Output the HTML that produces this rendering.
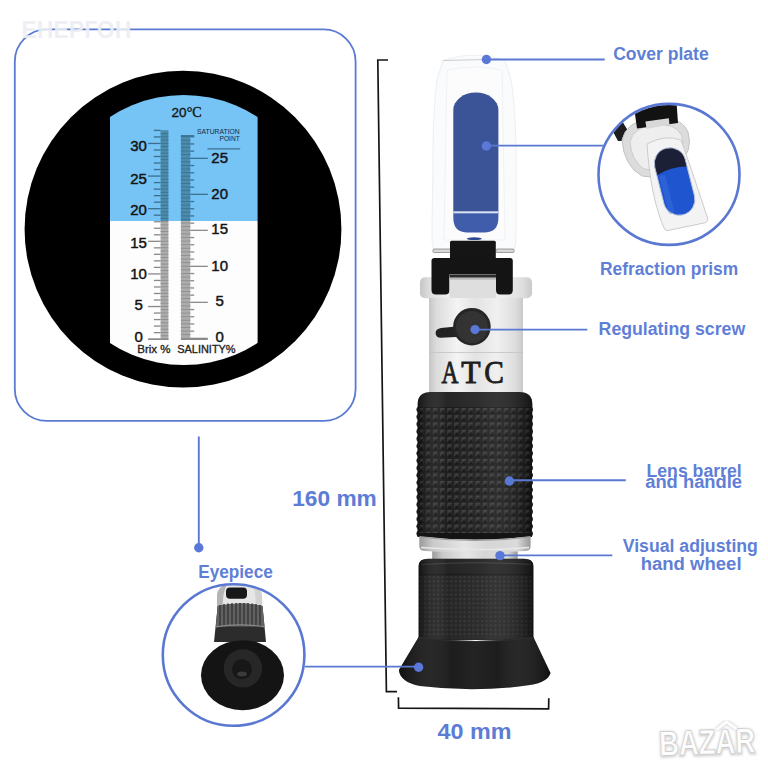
<!DOCTYPE html>
<html><head><meta charset="utf-8">
<style>
html,body{margin:0;padding:0;background:#fff;width:768px;height:768px;overflow:hidden}
svg{display:block}
text{font-family:"Liberation Sans",sans-serif}
.lbl{fill:#5f7fd7;font-weight:bold;font-size:18.3px}
.dim{fill:#5c7cd6;font-weight:bold;font-size:22px}
.num{fill:#141414;font-size:15px;stroke:#141414;stroke-width:0.45px}
</style></head>
<body>
<svg width="768" height="768" viewBox="0 0 768 768">
<defs>
  <clipPath id="panel">
    <circle cx="183.7" cy="230" r="135"/>
  </clipPath>
  <linearGradient id="silver" x1="0" x2="1" y1="0" y2="0">
    <stop offset="0" stop-color="#c6c6c6"/>
    <stop offset="0.08" stop-color="#dcdcdc"/>
    <stop offset="0.3" stop-color="#f4f4f4"/>
    <stop offset="0.5" stop-color="#e3e3e3"/>
    <stop offset="0.72" stop-color="#f0f0f0"/>
    <stop offset="0.92" stop-color="#dddddd"/>
    <stop offset="1" stop-color="#c9c9c9"/>
  </linearGradient>
  <linearGradient id="rubber" x1="0" x2="1" y1="0" y2="0">
    <stop offset="0" stop-color="#000" stop-opacity="0.35"/>
    <stop offset="0.25" stop-color="#fff" stop-opacity="0.04"/>
    <stop offset="0.55" stop-color="#fff" stop-opacity="0.08"/>
    <stop offset="1" stop-color="#000" stop-opacity="0.35"/>
  </linearGradient>
  <linearGradient id="ring" x1="0" x2="1" y1="0" y2="0">
    <stop offset="0" stop-color="#9a9a9a"/>
    <stop offset="0.12" stop-color="#c9c9c9"/>
    <stop offset="0.4" stop-color="#e6e6e6"/>
    <stop offset="0.6" stop-color="#d6d6d6"/>
    <stop offset="0.88" stop-color="#dadada"/>
    <stop offset="1" stop-color="#989898"/>
  </linearGradient>
  <linearGradient id="cone" x1="0" x2="1" y1="0" y2="0">
    <stop offset="0" stop-color="#000" stop-opacity="0.3"/>
    <stop offset="0.35" stop-color="#fff" stop-opacity="0.03"/>
    <stop offset="0.5" stop-color="#fff" stop-opacity="0.06"/>
    <stop offset="0.65" stop-color="#fff" stop-opacity="0.03"/>
    <stop offset="1" stop-color="#000" stop-opacity="0.3"/>
  </linearGradient>
  <pattern id="knurl" x="417.7" y="407" width="7.1" height="7.3" patternUnits="userSpaceOnUse">
    <rect width="7.1" height="7.3" fill="#161616"/>
    <path d="M0.9 0.9 L6.2 0.9 L3.55 3.65Z" fill="#3a3a3a"/>
    <path d="M0.9 0.9 L3.55 3.65 L0.9 6.4Z" fill="#2e2e2e"/>
    <path d="M6.2 0.9 L6.2 6.4 L3.55 3.65Z" fill="#1e1e1e"/>
    <path d="M0.9 6.4 L3.55 3.65 L6.2 6.4Z" fill="#0c0c0c"/>
  </pattern>
  <pattern id="dots" x="418.6" y="575" width="4.4" height="4.4" patternUnits="userSpaceOnUse">
    <rect width="4.4" height="4.4" fill="#1c1c1c"/>
    <rect x="1" y="1" width="2" height="2" fill="#2e2e2e"/>
  </pattern>
</defs>

<!-- ===== left magnified scale box ===== -->
<rect x="14.8" y="29.4" width="340.8" height="391.5" rx="32" ry="32" fill="none" stroke="#5b7bd3" stroke-width="1.8"/>
<text x="21.5" y="38" font-size="23" font-weight="bold" fill="#eceef4" fill-opacity="0.92">ЕНЕРГОН</text>

<circle cx="183" cy="229.2" r="158.4" fill="#000"/>
<g clip-path="url(#panel)">
  <rect x="110" y="90" width="147.6" height="131" fill="#76c3f6"/>
  <rect x="110" y="221" width="147.6" height="150" fill="#fdfdfd"/>
</g>

<!-- SCALE_START -->
<rect x="160.6" y="130.2" width="7.80" height="90.80" fill="#4b8cac"/>
<rect x="160.6" y="221.0" width="7.80" height="118.40" fill="#adadad"/>
<rect x="180.9" y="135.8" width="9.40" height="85.20" fill="#4b8cac"/>
<rect x="180.9" y="221.0" width="9.40" height="118.40" fill="#adadad"/>
<rect x="160.6" y="338.60" width="7.8" height="0.9" fill="#8e8e8e"/>
<rect x="160.6" y="335.34" width="7.8" height="0.9" fill="#8e8e8e"/>
<rect x="160.6" y="332.08" width="7.8" height="0.9" fill="#8e8e8e"/>
<rect x="160.6" y="328.82" width="7.8" height="0.9" fill="#8e8e8e"/>
<rect x="160.6" y="325.55" width="7.8" height="0.9" fill="#8e8e8e"/>
<rect x="160.6" y="322.29" width="7.8" height="0.9" fill="#8e8e8e"/>
<rect x="160.6" y="319.03" width="7.8" height="0.9" fill="#8e8e8e"/>
<rect x="160.6" y="315.77" width="7.8" height="0.9" fill="#8e8e8e"/>
<rect x="160.6" y="312.51" width="7.8" height="0.9" fill="#8e8e8e"/>
<rect x="160.6" y="309.25" width="7.8" height="0.9" fill="#8e8e8e"/>
<rect x="160.6" y="305.99" width="7.8" height="0.9" fill="#8e8e8e"/>
<rect x="160.6" y="302.72" width="7.8" height="0.9" fill="#8e8e8e"/>
<rect x="160.6" y="299.46" width="7.8" height="0.9" fill="#8e8e8e"/>
<rect x="160.6" y="296.20" width="7.8" height="0.9" fill="#8e8e8e"/>
<rect x="160.6" y="292.94" width="7.8" height="0.9" fill="#8e8e8e"/>
<rect x="160.6" y="289.68" width="7.8" height="0.9" fill="#8e8e8e"/>
<rect x="160.6" y="286.42" width="7.8" height="0.9" fill="#8e8e8e"/>
<rect x="160.6" y="283.15" width="7.8" height="0.9" fill="#8e8e8e"/>
<rect x="160.6" y="279.89" width="7.8" height="0.9" fill="#8e8e8e"/>
<rect x="160.6" y="276.63" width="7.8" height="0.9" fill="#8e8e8e"/>
<rect x="160.6" y="273.37" width="7.8" height="0.9" fill="#8e8e8e"/>
<rect x="160.6" y="270.11" width="7.8" height="0.9" fill="#8e8e8e"/>
<rect x="160.6" y="266.85" width="7.8" height="0.9" fill="#8e8e8e"/>
<rect x="160.6" y="263.59" width="7.8" height="0.9" fill="#8e8e8e"/>
<rect x="160.6" y="260.32" width="7.8" height="0.9" fill="#8e8e8e"/>
<rect x="160.6" y="257.06" width="7.8" height="0.9" fill="#8e8e8e"/>
<rect x="160.6" y="253.80" width="7.8" height="0.9" fill="#8e8e8e"/>
<rect x="160.6" y="250.54" width="7.8" height="0.9" fill="#8e8e8e"/>
<rect x="160.6" y="247.28" width="7.8" height="0.9" fill="#8e8e8e"/>
<rect x="160.6" y="244.02" width="7.8" height="0.9" fill="#8e8e8e"/>
<rect x="160.6" y="240.76" width="7.8" height="0.9" fill="#8e8e8e"/>
<rect x="160.6" y="237.49" width="7.8" height="0.9" fill="#8e8e8e"/>
<rect x="160.6" y="234.23" width="7.8" height="0.9" fill="#8e8e8e"/>
<rect x="160.6" y="230.97" width="7.8" height="0.9" fill="#8e8e8e"/>
<rect x="160.6" y="227.71" width="7.8" height="0.9" fill="#8e8e8e"/>
<rect x="160.6" y="224.45" width="7.8" height="0.9" fill="#8e8e8e"/>
<rect x="160.6" y="221.19" width="7.8" height="0.9" fill="#8e8e8e"/>
<rect x="160.6" y="217.92" width="7.8" height="0.9" fill="#3c7290"/>
<rect x="160.6" y="214.66" width="7.8" height="0.9" fill="#3c7290"/>
<rect x="160.6" y="211.40" width="7.8" height="0.9" fill="#3c7290"/>
<rect x="160.6" y="208.14" width="7.8" height="0.9" fill="#3c7290"/>
<rect x="160.6" y="204.88" width="7.8" height="0.9" fill="#3c7290"/>
<rect x="160.6" y="201.62" width="7.8" height="0.9" fill="#3c7290"/>
<rect x="160.6" y="198.36" width="7.8" height="0.9" fill="#3c7290"/>
<rect x="160.6" y="195.09" width="7.8" height="0.9" fill="#3c7290"/>
<rect x="160.6" y="191.83" width="7.8" height="0.9" fill="#3c7290"/>
<rect x="160.6" y="188.57" width="7.8" height="0.9" fill="#3c7290"/>
<rect x="160.6" y="185.31" width="7.8" height="0.9" fill="#3c7290"/>
<rect x="160.6" y="182.05" width="7.8" height="0.9" fill="#3c7290"/>
<rect x="160.6" y="178.79" width="7.8" height="0.9" fill="#3c7290"/>
<rect x="160.6" y="175.53" width="7.8" height="0.9" fill="#3c7290"/>
<rect x="160.6" y="172.26" width="7.8" height="0.9" fill="#3c7290"/>
<rect x="160.6" y="169.00" width="7.8" height="0.9" fill="#3c7290"/>
<rect x="160.6" y="165.74" width="7.8" height="0.9" fill="#3c7290"/>
<rect x="160.6" y="162.48" width="7.8" height="0.9" fill="#3c7290"/>
<rect x="160.6" y="159.22" width="7.8" height="0.9" fill="#3c7290"/>
<rect x="160.6" y="155.96" width="7.8" height="0.9" fill="#3c7290"/>
<rect x="160.6" y="152.69" width="7.8" height="0.9" fill="#3c7290"/>
<rect x="160.6" y="149.43" width="7.8" height="0.9" fill="#3c7290"/>
<rect x="160.6" y="146.17" width="7.8" height="0.9" fill="#3c7290"/>
<rect x="160.6" y="142.91" width="7.8" height="0.9" fill="#3c7290"/>
<rect x="160.6" y="139.65" width="7.8" height="0.9" fill="#3c7290"/>
<rect x="160.6" y="136.39" width="7.8" height="0.9" fill="#3c7290"/>
<rect x="160.6" y="133.13" width="7.8" height="0.9" fill="#3c7290"/>
<rect x="180.9" y="337.80" width="9.4" height="0.9" fill="#8e8e8e"/>
<rect x="180.9" y="334.20" width="9.4" height="0.9" fill="#8e8e8e"/>
<rect x="180.9" y="330.60" width="9.4" height="0.9" fill="#8e8e8e"/>
<rect x="180.9" y="327.00" width="9.4" height="0.9" fill="#8e8e8e"/>
<rect x="180.9" y="323.40" width="9.4" height="0.9" fill="#8e8e8e"/>
<rect x="180.9" y="319.80" width="9.4" height="0.9" fill="#8e8e8e"/>
<rect x="180.9" y="316.20" width="9.4" height="0.9" fill="#8e8e8e"/>
<rect x="180.9" y="312.60" width="9.4" height="0.9" fill="#8e8e8e"/>
<rect x="180.9" y="309.00" width="9.4" height="0.9" fill="#8e8e8e"/>
<rect x="180.9" y="305.40" width="9.4" height="0.9" fill="#8e8e8e"/>
<rect x="180.9" y="301.80" width="9.4" height="0.9" fill="#8e8e8e"/>
<rect x="180.9" y="298.20" width="9.4" height="0.9" fill="#8e8e8e"/>
<rect x="180.9" y="294.60" width="9.4" height="0.9" fill="#8e8e8e"/>
<rect x="180.9" y="291.00" width="9.4" height="0.9" fill="#8e8e8e"/>
<rect x="180.9" y="287.40" width="9.4" height="0.9" fill="#8e8e8e"/>
<rect x="180.9" y="283.80" width="9.4" height="0.9" fill="#8e8e8e"/>
<rect x="180.9" y="280.20" width="9.4" height="0.9" fill="#8e8e8e"/>
<rect x="180.9" y="276.60" width="9.4" height="0.9" fill="#8e8e8e"/>
<rect x="180.9" y="273.00" width="9.4" height="0.9" fill="#8e8e8e"/>
<rect x="180.9" y="269.40" width="9.4" height="0.9" fill="#8e8e8e"/>
<rect x="180.9" y="265.80" width="9.4" height="0.9" fill="#8e8e8e"/>
<rect x="180.9" y="262.20" width="9.4" height="0.9" fill="#8e8e8e"/>
<rect x="180.9" y="258.60" width="9.4" height="0.9" fill="#8e8e8e"/>
<rect x="180.9" y="255.00" width="9.4" height="0.9" fill="#8e8e8e"/>
<rect x="180.9" y="251.40" width="9.4" height="0.9" fill="#8e8e8e"/>
<rect x="180.9" y="247.80" width="9.4" height="0.9" fill="#8e8e8e"/>
<rect x="180.9" y="244.20" width="9.4" height="0.9" fill="#8e8e8e"/>
<rect x="180.9" y="240.60" width="9.4" height="0.9" fill="#8e8e8e"/>
<rect x="180.9" y="237.00" width="9.4" height="0.9" fill="#8e8e8e"/>
<rect x="180.9" y="233.40" width="9.4" height="0.9" fill="#8e8e8e"/>
<rect x="180.9" y="229.80" width="9.4" height="0.9" fill="#8e8e8e"/>
<rect x="180.9" y="226.20" width="9.4" height="0.9" fill="#8e8e8e"/>
<rect x="180.9" y="222.60" width="9.4" height="0.9" fill="#8e8e8e"/>
<rect x="180.9" y="219.00" width="9.4" height="0.9" fill="#3c7290"/>
<rect x="180.9" y="215.40" width="9.4" height="0.9" fill="#3c7290"/>
<rect x="180.9" y="211.80" width="9.4" height="0.9" fill="#3c7290"/>
<rect x="180.9" y="208.20" width="9.4" height="0.9" fill="#3c7290"/>
<rect x="180.9" y="204.60" width="9.4" height="0.9" fill="#3c7290"/>
<rect x="180.9" y="201.00" width="9.4" height="0.9" fill="#3c7290"/>
<rect x="180.9" y="197.40" width="9.4" height="0.9" fill="#3c7290"/>
<rect x="180.9" y="193.80" width="9.4" height="0.9" fill="#3c7290"/>
<rect x="180.9" y="190.20" width="9.4" height="0.9" fill="#3c7290"/>
<rect x="180.9" y="186.60" width="9.4" height="0.9" fill="#3c7290"/>
<rect x="180.9" y="183.00" width="9.4" height="0.9" fill="#3c7290"/>
<rect x="180.9" y="179.40" width="9.4" height="0.9" fill="#3c7290"/>
<rect x="180.9" y="175.80" width="9.4" height="0.9" fill="#3c7290"/>
<rect x="180.9" y="172.20" width="9.4" height="0.9" fill="#3c7290"/>
<rect x="180.9" y="168.60" width="9.4" height="0.9" fill="#3c7290"/>
<rect x="180.9" y="165.00" width="9.4" height="0.9" fill="#3c7290"/>
<rect x="180.9" y="161.40" width="9.4" height="0.9" fill="#3c7290"/>
<rect x="180.9" y="157.80" width="9.4" height="0.9" fill="#3c7290"/>
<rect x="180.9" y="154.20" width="9.4" height="0.9" fill="#3c7290"/>
<rect x="180.9" y="150.60" width="9.4" height="0.9" fill="#3c7290"/>
<rect x="180.9" y="147.00" width="9.4" height="0.9" fill="#3c7290"/>
<rect x="180.9" y="143.40" width="9.4" height="0.9" fill="#3c7290"/>
<rect x="180.9" y="139.80" width="9.4" height="0.9" fill="#3c7290"/>
<rect x="180.9" y="136.20" width="9.4" height="0.9" fill="#3c7290"/>
<rect x="148.1" y="338.50" width="12.50" height="1.3" fill="#8a8a8a"/>
<rect x="153.9" y="331.98" width="6.70" height="1.3" fill="#8a8a8a"/>
<rect x="153.9" y="325.45" width="6.70" height="1.3" fill="#8a8a8a"/>
<rect x="153.9" y="318.93" width="6.70" height="1.3" fill="#8a8a8a"/>
<rect x="153.9" y="312.41" width="6.70" height="1.3" fill="#8a8a8a"/>
<rect x="148.1" y="305.88" width="12.50" height="1.3" fill="#8a8a8a"/>
<rect x="153.9" y="299.36" width="6.70" height="1.3" fill="#8a8a8a"/>
<rect x="153.9" y="292.84" width="6.70" height="1.3" fill="#8a8a8a"/>
<rect x="153.9" y="286.32" width="6.70" height="1.3" fill="#8a8a8a"/>
<rect x="153.9" y="279.79" width="6.70" height="1.3" fill="#8a8a8a"/>
<rect x="148.1" y="273.27" width="12.50" height="1.3" fill="#8a8a8a"/>
<rect x="153.9" y="266.75" width="6.70" height="1.3" fill="#8a8a8a"/>
<rect x="153.9" y="260.22" width="6.70" height="1.3" fill="#8a8a8a"/>
<rect x="153.9" y="253.70" width="6.70" height="1.3" fill="#8a8a8a"/>
<rect x="153.9" y="247.18" width="6.70" height="1.3" fill="#8a8a8a"/>
<rect x="148.1" y="240.66" width="12.50" height="1.3" fill="#8a8a8a"/>
<rect x="153.9" y="234.13" width="6.70" height="1.3" fill="#8a8a8a"/>
<rect x="153.9" y="227.61" width="6.70" height="1.3" fill="#8a8a8a"/>
<rect x="153.9" y="221.09" width="6.70" height="1.3" fill="#8a8a8a"/>
<rect x="153.9" y="214.56" width="6.70" height="1.3" fill="#3d6f8e"/>
<rect x="148.1" y="208.04" width="12.50" height="1.3" fill="#3d6f8e"/>
<rect x="153.9" y="201.52" width="6.70" height="1.3" fill="#3d6f8e"/>
<rect x="153.9" y="194.99" width="6.70" height="1.3" fill="#3d6f8e"/>
<rect x="153.9" y="188.47" width="6.70" height="1.3" fill="#3d6f8e"/>
<rect x="153.9" y="181.95" width="6.70" height="1.3" fill="#3d6f8e"/>
<rect x="148.1" y="175.43" width="12.50" height="1.3" fill="#3d6f8e"/>
<rect x="153.9" y="168.90" width="6.70" height="1.3" fill="#3d6f8e"/>
<rect x="153.9" y="162.38" width="6.70" height="1.3" fill="#3d6f8e"/>
<rect x="153.9" y="155.86" width="6.70" height="1.3" fill="#3d6f8e"/>
<rect x="153.9" y="149.33" width="6.70" height="1.3" fill="#3d6f8e"/>
<rect x="148.1" y="142.81" width="12.50" height="1.3" fill="#3d6f8e"/>
<rect x="153.9" y="136.29" width="6.70" height="1.3" fill="#3d6f8e"/>
<rect x="153.9" y="129.76" width="6.70" height="1.3" fill="#3d6f8e"/>
<rect x="190.3" y="337.70" width="17.50" height="1.3" fill="#8a8a8a"/>
<rect x="190.3" y="330.50" width="3.90" height="1.3" fill="#8a8a8a"/>
<rect x="190.3" y="323.30" width="3.90" height="1.3" fill="#8a8a8a"/>
<rect x="190.3" y="316.10" width="3.90" height="1.3" fill="#8a8a8a"/>
<rect x="190.3" y="308.90" width="3.90" height="1.3" fill="#8a8a8a"/>
<rect x="190.3" y="301.70" width="17.50" height="1.3" fill="#8a8a8a"/>
<rect x="190.3" y="294.50" width="3.90" height="1.3" fill="#8a8a8a"/>
<rect x="190.3" y="287.30" width="3.90" height="1.3" fill="#8a8a8a"/>
<rect x="190.3" y="280.10" width="3.90" height="1.3" fill="#8a8a8a"/>
<rect x="190.3" y="272.90" width="3.90" height="1.3" fill="#8a8a8a"/>
<rect x="190.3" y="265.70" width="17.50" height="1.3" fill="#8a8a8a"/>
<rect x="190.3" y="258.50" width="3.90" height="1.3" fill="#8a8a8a"/>
<rect x="190.3" y="251.30" width="3.90" height="1.3" fill="#8a8a8a"/>
<rect x="190.3" y="244.10" width="3.90" height="1.3" fill="#8a8a8a"/>
<rect x="190.3" y="236.90" width="3.90" height="1.3" fill="#8a8a8a"/>
<rect x="190.3" y="229.70" width="17.50" height="1.3" fill="#8a8a8a"/>
<rect x="190.3" y="222.50" width="3.90" height="1.3" fill="#8a8a8a"/>
<rect x="190.3" y="215.30" width="3.90" height="1.3" fill="#3d6f8e"/>
<rect x="190.3" y="208.10" width="3.90" height="1.3" fill="#3d6f8e"/>
<rect x="190.3" y="200.90" width="3.90" height="1.3" fill="#3d6f8e"/>
<rect x="190.3" y="193.70" width="17.50" height="1.3" fill="#3d6f8e"/>
<rect x="190.3" y="186.50" width="3.90" height="1.3" fill="#3d6f8e"/>
<rect x="190.3" y="179.30" width="3.90" height="1.3" fill="#3d6f8e"/>
<rect x="190.3" y="172.10" width="3.90" height="1.3" fill="#3d6f8e"/>
<rect x="190.3" y="164.90" width="3.90" height="1.3" fill="#3d6f8e"/>
<rect x="190.3" y="157.70" width="17.50" height="1.3" fill="#3d6f8e"/>
<rect x="190.3" y="150.50" width="3.90" height="1.3" fill="#3d6f8e"/>
<rect x="190.3" y="143.30" width="3.90" height="1.3" fill="#3d6f8e"/>
<rect x="190.3" y="136.10" width="3.90" height="1.3" fill="#3d6f8e"/>
<rect x="148.4" y="338.6" width="20" height="1.4" fill="#8a8a8a"/>
<rect x="181" y="338.6" width="26.8" height="1.4" fill="#8a8a8a"/>
<rect x="180.9" y="135.1" width="13.3" height="1.3" fill="#3d6f8e"/>
<text class="num" x="138.6" y="151.3" text-anchor="middle">30</text>
<text class="num" x="138.6" y="183.9" text-anchor="middle">25</text>
<text class="num" x="138.6" y="214.7" text-anchor="middle">20</text>
<text class="num" x="138.6" y="247.5" text-anchor="middle">15</text>
<text class="num" x="138.6" y="279.1" text-anchor="middle">10</text>
<text class="num" x="138.6" y="310.3" text-anchor="middle">5</text>
<text class="num" x="138.6" y="342.0" text-anchor="middle">0</text>
<text class="num" x="219.7" y="162.9" text-anchor="middle">25</text>
<text class="num" x="219.7" y="198.8" text-anchor="middle">20</text>
<text class="num" x="219.7" y="233.9" text-anchor="middle">15</text>
<text class="num" x="219.7" y="271.1" text-anchor="middle">10</text>
<text class="num" x="219.7" y="306.2" text-anchor="middle">5</text>
<text class="num" x="219.7" y="342.3" text-anchor="middle">0</text>
<text x="171.6" y="116.7" font-size="13.5" fill="#141414" stroke="#141414" stroke-width="0.35">20<tspan style="font-family:'Liberation Serif',serif" font-size="14">°C</tspan></text>
<text x="196.9" y="133.6" font-size="7" fill="#1a2a3a" textLength="42.9" lengthAdjust="spacingAndGlyphs">SATURATION</text>
<text x="219.5" y="141.1" font-size="7" fill="#1a2a3a" textLength="20.3" lengthAdjust="spacingAndGlyphs">POINT</text>
<rect x="207.5" y="148.3" width="32.7" height="1.2" fill="#3d6f8e"/>
<text x="137.3" y="353.3" font-size="10" fill="#222" stroke="#222" stroke-width="0.3" textLength="33.2" lengthAdjust="spacingAndGlyphs">Brix %</text>
<text x="177.3" y="353.3" font-size="10" fill="#222" stroke="#222" stroke-width="0.3" textLength="58.3" lengthAdjust="spacingAndGlyphs">SALINITY%</text>
<!-- SCALE_END -->

<!-- ===== dimension brackets ===== -->
<path d="M388 60 L377.8 60 L386.4 691.6 L397 691.6" fill="none" stroke="#151515" stroke-width="1.7"/>
<path d="M398.4 697.3 L398.6 708.2 L548.6 708.8 L548.8 698.3" fill="none" stroke="#151515" stroke-width="1.7"/>
<text class="dim" x="292.2" y="506" textLength="84.6" lengthAdjust="spacingAndGlyphs">160 mm</text>
<text class="dim" x="437.5" y="738.5" textLength="74" lengthAdjust="spacingAndGlyphs">40 mm</text>

<!-- BODY_START -->
<!-- cover plate (transparent) -->
<path d="M443 60.5 Q474 50 505 60.5 L511 80 Q516 110 516 160 L516 235 Q516 250 512 252 L436 252 Q432 250 432 235 L433 160 Q433 110 437 80 Z" fill="#fafbfc" stroke="#eef0f3" stroke-width="1.2"/>
<path d="M443 60.5 L486 59.5" stroke="#c9ccd2" stroke-width="1.2"/>
<path d="M447 70 Q474 64 502 70 L505 240 L444 240 Z" fill="#fcfcfd" stroke="#f1f2f4" stroke-width="1"/>
<!-- prism window -->
<path d="M453.3 110 A22.55 17.5 0 0 1 498.4 110 L498.4 213 L453.3 213 Z" fill="#3a5497"/>
<path d="M453.3 212.5 L498.4 212.5 L498.4 218 Q498.4 232.5 484 232.5 L467.7 232.5 Q453.3 232.5 453.3 218 Z" fill="#3f5dab"/>
<rect x="453.3" y="211.3" width="45.1" height="2" fill="#dde3f2"/>
<ellipse cx="474.3" cy="238.7" rx="7.5" ry="1.4" fill="#2c4690"/>
<!-- pins -->
<rect x="433" y="249" width="18" height="3.5" rx="1" fill="#d8d8d8" stroke="#8a8a8a" stroke-width="0.8"/>
<rect x="496" y="249" width="18" height="3.5" rx="1" fill="#d8d8d8" stroke="#8a8a8a" stroke-width="0.8"/>
<!-- collar -->
<rect x="420" y="277.3" width="112" height="21" rx="5" fill="url(#silver)"/>
<!-- hinge -->
<rect x="450" y="240.8" width="45.8" height="19" rx="1.5" fill="#151515"/>
<path d="M434.5 258 L510.5 258 Q512.8 258 512.8 260.5 L512.8 290 Q512.8 294.5 508.5 294.5 L500 294.5 Q496 294.5 496 290 L496 274.5 L449.5 274.5 L449.5 290 Q449.5 294.5 445 294.5 L436 294.5 Q431.5 294.5 431.5 290 L431.5 260.5 Q431.5 258 434.5 258Z" fill="#141414"/>
<rect x="449.5" y="274.5" width="46.5" height="25" fill="#dedede"/>
<rect x="449.5" y="274.5" width="46.5" height="3.2" fill="#2a2a2a"/>
<rect x="449.5" y="277.7" width="46.5" height="2" fill="#b8b8b8"/>
<!-- body -->
<rect x="429" y="298" width="94" height="94.5" fill="url(#silver)"/>
<rect x="429" y="352.2" width="94" height="0.8" fill="#c4c4c4"/>
<!-- knob -->
<path d="M456 326.5 L441 328 Q435.5 329 435.6 333 Q435.8 338 441 337.8 L456 337 Z" fill="#222"/>
<circle cx="471.9" cy="326.7" r="18.8" fill="#262626"/>
<circle cx="471.9" cy="326.9" r="16" fill="#333"/>
<g font-size="32.5" fill="#1e1e1e" stroke="#1e1e1e" stroke-width="0.95"><text x="441.5" y="383.1" textLength="16.9" lengthAdjust="spacingAndGlyphs" style="font-family:'Liberation Serif',serif">A</text><text x="461.3" y="383.1" textLength="19.3" lengthAdjust="spacingAndGlyphs" style="font-family:'Liberation Serif',serif">T</text><text x="484.3" y="383.1" textLength="19.6" lengthAdjust="spacingAndGlyphs" style="font-family:'Liberation Serif',serif">C</text></g>
<!-- handle -->
<path d="M417.7 537 L417.7 404 Q417.7 392 431 392 L519 392 Q532.3 392 532.3 404 L531.7 537 Z" fill="#1d1d1d"/>
<rect x="417.7" y="407" width="114" height="130" fill="url(#knurl)"/>
<ellipse cx="418.2" cy="409.5" rx="1.8" ry="2.6" fill="#1c1c1c"/>
<ellipse cx="531.2" cy="409.5" rx="1.8" ry="2.6" fill="#1c1c1c"/>
<ellipse cx="418.2" cy="416.8" rx="1.8" ry="2.6" fill="#1c1c1c"/>
<ellipse cx="531.2" cy="416.8" rx="1.8" ry="2.6" fill="#1c1c1c"/>
<ellipse cx="418.2" cy="424.1" rx="1.8" ry="2.6" fill="#1c1c1c"/>
<ellipse cx="531.2" cy="424.1" rx="1.8" ry="2.6" fill="#1c1c1c"/>
<ellipse cx="418.2" cy="431.4" rx="1.8" ry="2.6" fill="#1c1c1c"/>
<ellipse cx="531.2" cy="431.4" rx="1.8" ry="2.6" fill="#1c1c1c"/>
<ellipse cx="418.2" cy="438.7" rx="1.8" ry="2.6" fill="#1c1c1c"/>
<ellipse cx="531.2" cy="438.7" rx="1.8" ry="2.6" fill="#1c1c1c"/>
<ellipse cx="418.2" cy="446.0" rx="1.8" ry="2.6" fill="#1c1c1c"/>
<ellipse cx="531.2" cy="446.0" rx="1.8" ry="2.6" fill="#1c1c1c"/>
<ellipse cx="418.2" cy="453.3" rx="1.8" ry="2.6" fill="#1c1c1c"/>
<ellipse cx="531.2" cy="453.3" rx="1.8" ry="2.6" fill="#1c1c1c"/>
<ellipse cx="418.2" cy="460.6" rx="1.8" ry="2.6" fill="#1c1c1c"/>
<ellipse cx="531.2" cy="460.6" rx="1.8" ry="2.6" fill="#1c1c1c"/>
<ellipse cx="418.2" cy="467.9" rx="1.8" ry="2.6" fill="#1c1c1c"/>
<ellipse cx="531.2" cy="467.9" rx="1.8" ry="2.6" fill="#1c1c1c"/>
<ellipse cx="418.2" cy="475.2" rx="1.8" ry="2.6" fill="#1c1c1c"/>
<ellipse cx="531.2" cy="475.2" rx="1.8" ry="2.6" fill="#1c1c1c"/>
<ellipse cx="418.2" cy="482.5" rx="1.8" ry="2.6" fill="#1c1c1c"/>
<ellipse cx="531.2" cy="482.5" rx="1.8" ry="2.6" fill="#1c1c1c"/>
<ellipse cx="418.2" cy="489.8" rx="1.8" ry="2.6" fill="#1c1c1c"/>
<ellipse cx="531.2" cy="489.8" rx="1.8" ry="2.6" fill="#1c1c1c"/>
<ellipse cx="418.2" cy="497.1" rx="1.8" ry="2.6" fill="#1c1c1c"/>
<ellipse cx="531.2" cy="497.1" rx="1.8" ry="2.6" fill="#1c1c1c"/>
<ellipse cx="418.2" cy="504.4" rx="1.8" ry="2.6" fill="#1c1c1c"/>
<ellipse cx="531.2" cy="504.4" rx="1.8" ry="2.6" fill="#1c1c1c"/>
<ellipse cx="418.2" cy="511.7" rx="1.8" ry="2.6" fill="#1c1c1c"/>
<ellipse cx="531.2" cy="511.7" rx="1.8" ry="2.6" fill="#1c1c1c"/>
<ellipse cx="418.2" cy="519.0" rx="1.8" ry="2.6" fill="#1c1c1c"/>
<ellipse cx="531.2" cy="519.0" rx="1.8" ry="2.6" fill="#1c1c1c"/>
<ellipse cx="418.2" cy="526.3" rx="1.8" ry="2.6" fill="#1c1c1c"/>
<ellipse cx="531.2" cy="526.3" rx="1.8" ry="2.6" fill="#1c1c1c"/>
<ellipse cx="418.2" cy="533.6" rx="1.8" ry="2.6" fill="#1c1c1c"/>
<ellipse cx="531.2" cy="533.6" rx="1.8" ry="2.6" fill="#1c1c1c"/>
<path d="M419 407.5 L531 407.5" stroke="#111" stroke-width="1.2"/>
<path d="M417.7 537 L417.7 404 Q417.7 392 431 392 L519 392 Q532.3 392 532.3 404 L531.7 537 Z" fill="url(#rubber)"/>
<!-- silver rings -->
<path d="M432.2 549 L517.7 549 L517.7 567 L432.2 567 Z" fill="url(#ring)"/>
<path d="M419.3 534 L530.6 534 L530.6 546 Q530.6 550.5 526 551 Q475 554 424 551 Q419.3 550.5 419.3 546 Z" fill="url(#ring)"/>
<path d="M421 547.5 Q475 551.5 529 547.5" stroke="#e8e8e8" stroke-width="1.5" fill="none"/>
<path d="M433 565.5 L517 565.5" stroke="#8a8a8a" stroke-width="1.5"/>
<path d="M417.7 533 L531.7 533 L531.7 536 Q475 543 417.7 536 Z" fill="#141414"/>
<path d="M419.5 537 Q475 544 530.5 537" stroke="#9a9a9a" stroke-width="1" fill="none"/>
<!-- eyepiece wheel -->
<path d="M418.6 640 L418.6 566 Q418.6 558.7 428 558.7 L524 558.7 Q533.4 558.7 533.4 566 L533.4 640 Z" fill="#1b1b1b"/>
<path d="M421 564.5 Q476 561 531 564.5" stroke="#3a3a3a" stroke-width="1.2" fill="none"/>
<path d="M419.5 574.5 L532.5 574.5" stroke="#101010" stroke-width="1.4"/>
<rect x="419.6" y="576" width="112.8" height="62" fill="url(#dots)"/>
<path d="M418.6 640 L418.6 566 Q418.6 558.7 428 558.7 L524 558.7 Q533.4 558.7 533.4 566 L533.4 640 Z" fill="url(#rubber)"/>
<!-- eyecup -->
<path d="M418.6 637 Q476 645 533.4 637 L550.5 673 Q548 682 530 685 Q476 693 420 686 Q400 682 398.9 670 Z" fill="#161616"/>
<path d="M418.6 637 Q476 645 533.4 637 L550.5 673 Q548 682 530 685 Q476 693 420 686 Q400 682 398.9 670 Z" fill="url(#cone)"/>
<path d="M418.6 637.5 Q476 645.5 533.4 637.5" stroke="#303030" stroke-width="1" fill="none"/>
<!-- BODY_END -->


<!-- CALL_START -->
<g stroke="#5a78d2" stroke-width="1.9" fill="none">
  <path d="M486.4 59.5 H604.7"/>
  <path d="M486.4 145.6 H603.5"/>
  <path d="M475 329.6 H587.3"/>
  <path d="M509.4 480.2 H625.8"/>
  <path d="M500 555.4 H612.3"/>
  <path d="M305 666.6 H418.6"/>
  <path d="M198.8 436.5 V547.8"/>
</g>
<g fill="#5a78d8">
  <circle cx="486.4" cy="59.5" r="4.7"/>
  <circle cx="486.4" cy="146" r="4.7"/>
  <circle cx="475" cy="329.6" r="4.6"/>
  <circle cx="509.4" cy="481" r="4.7"/>
  <circle cx="500" cy="555.6" r="4.7"/>
  <circle cx="418.6" cy="667.2" r="4.7"/>
  <circle cx="198.8" cy="547.8" r="4.7"/>
</g>
<text class="lbl" x="613.2" y="60" textLength="95.5" lengthAdjust="spacingAndGlyphs">Cover plate</text>
<text class="lbl" x="600.0" y="275" textLength="138.1" lengthAdjust="spacingAndGlyphs">Refraction prism</text>
<text class="lbl" x="598.6" y="335" textLength="146.6" lengthAdjust="spacingAndGlyphs">Regulating screw</text>
<text class="lbl" x="646.5" y="476.5" textLength="95.2" lengthAdjust="spacingAndGlyphs">Lens barrel</text>
<text class="lbl" x="645.2" y="487.8" textLength="96.9" lengthAdjust="spacingAndGlyphs">and handle</text>
<text class="lbl" x="622.7" y="552" textLength="135.2" lengthAdjust="spacingAndGlyphs">Visual adjusting</text>
<text class="lbl" x="640.7" y="570.3" textLength="100.9" lengthAdjust="spacingAndGlyphs">hand wheel</text>
<text class="lbl" x="198.2" y="578.3" textLength="74.6" lengthAdjust="spacingAndGlyphs">Eyepiece</text>
<!-- prism magnified circle -->
<clipPath id="pc"><circle cx="669" cy="174.4" r="69.5"/></clipPath>
<circle cx="669" cy="174.4" r="70.5" fill="#fff"/>
<g clip-path="url(#pc)">
  <path d="M610 126 L622 121 L630 134 L626 141 L618 141 Z" fill="#1e1e1e"/>
  <path d="M622 140 Q626 122 650 118 Q680 114 688 132 Q694 152 676 166 Q658 180 642 176 Q624 166 622 140 Z" fill="#dcdcdc" stroke="#c2c2c2" stroke-width="1"/>
  <path d="M630 142 Q633 128 652 125 Q676 122 682 136 Q686 152 671 162 Q656 172 644 169 Q631 160 630 142 Z" fill="#eeeeee" stroke="#cacaca" stroke-width="1"/>
  <path d="M633 100 L676 95 L678 123 L637 128.6 Z" fill="#121212"/>
  <path d="M645.4 121.5 L668.8 118.2 L669.5 124.5 L646.6 129 Z" fill="#d8d8d8"/>
  <path d="M647 144 C649 175 654 205 664 228 Q665 231 668 230.5 L704 223 Q708.5 222 707.5 218 C700 195 690 165 681 140 Q665 134 647 144 Z" fill="#f3f3f3" stroke="#cbcbcb" stroke-width="1"/>
  <g transform="rotate(-14.2 674.6 181.5)">
    <rect x="658.85" y="147.15" width="31.5" height="68.7" rx="15.75" fill="#1f55cf"/>
    <rect x="661" y="172" width="6" height="40" rx="3" fill="#3a6ee0" opacity="0.5"/>
    <path d="M658.85 162.9 A15.75 15.75 0 0 1 690.35 162.9 L690.35 170 Q674.6 166 658.85 171 Z" fill="#1b2036"/>
    <rect x="658.85" y="147.15" width="31.5" height="68.7" rx="15.75" fill="none" stroke="#b9c3d8" stroke-width="0.9"/>
  </g>
</g>
<circle cx="669" cy="174.4" r="70.5" fill="none" stroke="#5a78d2" stroke-width="2.6"/>
<!-- eyepiece magnified circle -->
<clipPath id="ec"><circle cx="233.6" cy="655" r="69.8"/></clipPath>
<circle cx="233.6" cy="655" r="70.8" fill="#fff"/>
<g clip-path="url(#ec)">
  <path d="M217 610 L217 596 Q217 584 240 584 Q262 584 262 596 L262.5 610 Z" fill="#e6e6e6"/>
  <path d="M217 610 L217 596 Q217 586 227 585 Q222 592 223 610 Z" fill="#b4b4b4"/>
  <path d="M255 610 Q257 592 252 585 Q262 587 262 596 L262.5 610 Z" fill="#d2d2d2"/>
  <rect x="226" y="587.4" width="21" height="11.4" rx="4" fill="#181818"/>
  <path d="M217.7 606 Q240 601 262.5 606 L266 642 L214 642 Z" fill="#2c2c2c"/>
  <path d="M217.7 606 Q240 601 262.5 606 L264.5 626.5 L215.8 626.5 Z" fill="#626262"/>
  <g stroke="#3a3a3a" stroke-width="1.5">
    <path d="M220 605 V626 M224 604 V626 M228 603.5 V626 M232 603 V626 M236 603 V626 M240 603 V626 M244 603 V626 M248 603 V626 M252 603.5 V626 M256 604 V626 M260 605 V626"/>
  </g>
  <path d="M215.8 626.8 Q240 623 264.5 626.8" stroke="#8a8a8a" stroke-width="1.2" fill="none"/>
<ellipse cx="242.5" cy="675.2" rx="41.5" ry="35" fill="#141414"/>
  <circle cx="242.9" cy="668.4" r="19.2" fill="#272727"/>
  <circle cx="242" cy="669.3" r="10" fill="#171717"/>
  <ellipse cx="242" cy="674" rx="5" ry="2.5" fill="#3a3a3a"/>
</g>
<circle cx="233.6" cy="655" r="70.8" fill="none" stroke="#5a78d2" stroke-width="2.6"/>
<filter id="wblur" x="-10%" y="-20%" width="120%" height="140%"><feGaussianBlur stdDeviation="1.2"/></filter>
<g transform="rotate(-2 707 740)">
<text x="659" y="755" font-size="35" font-weight="bold" fill="#d2d2d2" stroke="#d2d2d2" stroke-width="2.5" textLength="96" lengthAdjust="spacingAndGlyphs" filter="url(#wblur)">BAZAR</text>
<path d="M717 730 L727 722.5 L737 730" fill="none" stroke="#d2d2d2" stroke-width="4.5" filter="url(#wblur)"/>
<text x="659" y="754" font-size="35" font-weight="bold" fill="#fdfdfd" stroke="#c8c8c8" stroke-width="0.6" textLength="96" lengthAdjust="spacingAndGlyphs">BAZAR</text>
<path d="M717 730 L727 722.5 L737 730" fill="none" stroke="#fdfdfd" stroke-width="3"/>
</g>
<!-- CALL_END -->


</svg>
</body></html>
